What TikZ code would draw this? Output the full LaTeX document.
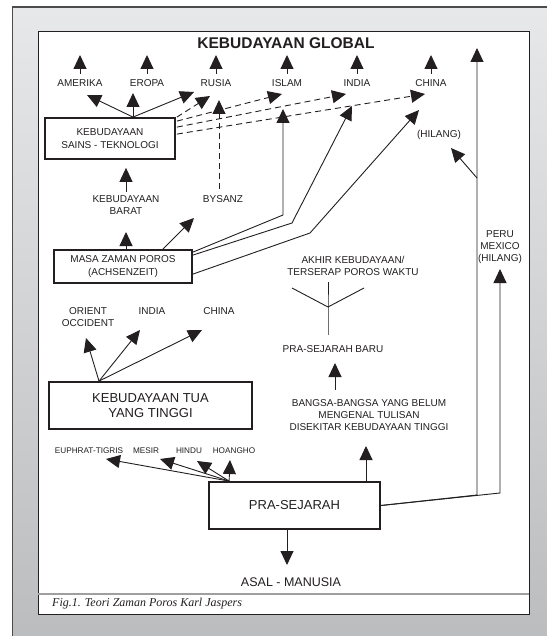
\documentclass[tikz,border=0pt]{standalone}
\usepackage{fontspec}
\setmainfont{Liberation Sans}
\newfontfamily\capfont{Liberation Serif}
\usepackage{tikz}
\usetikzlibrary{arrows.meta}
\definecolor{frametop}{RGB}{231,232,233}
\definecolor{framebot}{RGB}{186,187,189}
\definecolor{ink}{RGB}{35,31,32}

\begin{document}
\begin{tikzpicture}[x=1pt, y=-1pt, every node/.style={text=ink}]
    \tikzstyle{lbl} = [font=\fontsize{10}{12}\selectfont, align=center, inner sep=1pt]
    \tikzstyle{minilbl} = [font=\fontsize{8.2}{10}\selectfont, inner sep=1pt]
    \tikzstyle{box} = [rectangle, draw=ink, line width=1.8pt, align=center, inner sep=0pt]
    \tikzstyle{arr} = [draw=ink, line width=0.9pt, -{Triangle[length=14pt, width=13pt]}]
    \tikzstyle{darr} = [arr, dash pattern=on 6pt off 4pt]
    \tikzstyle{plain} = [draw=ink, line width=0.9pt]

    \useasboundingbox (0,0) rectangle (546,636);
    \fill[white] (0,0) rectangle (546,636);
    \draw[line width=1.2pt, draw=black!70, top color=frametop, bottom color=framebot] (12.5,7) rectangle (570,660);
    \draw[line width=1pt, draw=ink, fill=white] (38,32) rectangle (529,614);
    \draw[line width=1.5pt, draw=gray!75] (38,594) -- (529,594);
    \node[anchor=west, inner sep=0pt, font=\capfont\itshape\fontsize{12}{14}\selectfont] (fig) at (52,604) {Fig.1. Teori Zaman Poros Karl Jaspers};

    \node[font=\fontsize{15.5}{18}\selectfont\bfseries, inner sep=1pt] (global) at (286,43) {KEBUDAYAAN GLOBAL};

    \node[lbl] (amerika) at (80,83) {AMERIKA};
    \node[lbl] (eropa) at (147,83) {EROPA};
    \node[lbl] (rusia) at (216,83) {RUSIA};
    \node[lbl] (islam) at (287,83) {ISLAM};
    \node[lbl] (india) at (357,83) {INDIA};
    \node[lbl] (china) at (431,83) {CHINA};
    \foreach \n in {amerika, eropa, rusia, islam, india, china}
        \draw[arr] ([shift={(0,-9)}]\n.center) -- ++(0,-19);

    \node[box, minimum width=130pt, minimum height=41pt, font=\fontsize{10}{13.3}\selectfont] (sains) at (110,138.5) {KEBUDAYAAN\\SAINS - TEKNOLOGI};
    \draw[arr] ([shift={(23,0)}]sains.north) -- ([shift={(7,12)}]amerika.center);
    \draw[arr] ([shift={(23,0)}]sains.north) -- ([shift={(-14,10)}]eropa.center);
    \draw[arr] ([shift={(23,0)}]sains.north) -- ([shift={(-22,9)}]rusia.center);
    \draw[darr] ([shift={(1,0)}]sains.north east) -- ([shift={(-6,13)}]rusia.center);
    \draw[darr] ([shift={(1,4)}]sains.north east) -- ([shift={(-5,11)}]islam.center);
    \draw[darr] ([shift={(1,10)}]sains.north east) -- ([shift={(-11,11)}]india.center);
    \draw[darr] ([shift={(1,17)}]sains.north east) -- ([shift={(-6,11)}]china.center);

    \node[lbl] (barat) at (126,205) {KEBUDAYAAN\\BARAT};
    \draw[arr] ([shift={(0,-13)}]barat.center) -- ([shift={(16,8)}]sains.south);
    \node[lbl] (bysanz) at (223,199) {BYSANZ};
    \draw[darr] ([shift={(-4,-10)}]bysanz.center) -- ([shift={(-4,-99)}]bysanz.center);

    \node[box, minimum width=138pt, minimum height=33pt, font=\fontsize{10}{12.3}\selectfont] (masa) at (123,266.5) {MASA ZAMAN POROS\\(ACHSENZEIT)};
    \draw[arr] ([shift={(3,0)}]masa.north) -- ([shift={(0,27)}]barat.center);
    \draw[arr] ([shift={(40,0)}]masa.north) -- ([shift={(-29,19)}]bysanz.center);
    \draw[arr] ([shift={(0,3)}]masa.north east) -- (283,215) -- ([shift={(-4,26)}]islam.center);
    \draw[arr] ([shift={(0,6)}]masa.north east) -- (292,223) -- ([shift={(-5,23)}]india.center);
    \draw[arr] ([shift={(0,25)}]masa.north east) -- (310,233) -- ([shift={(-12,27)}]china.center);

    \node[box, minimum width=203pt, minimum height=47pt, font=\fontsize{13}{15}\selectfont] (tua) at (150.5,405.5) {KEBUDAYAAN TUA\\YANG TINGGI};
    \node[lbl] (orient) at (88,317) {ORIENT\\OCCIDENT};
    \node[lbl] (indiatua) at (152,311) {INDIA};
    \node[lbl] (chinatua) at (219,311) {CHINA};
    \draw[arr] ([shift={(-51.5,0)}]tua.north) -- ([shift={(-2,21)}]orient.center);
    \draw[arr] ([shift={(-51.5,0)}]tua.north) -- ([shift={(-12,19)}]indiatua.center);
    \draw[arr] ([shift={(-51.5,0)}]tua.north) -- ([shift={(-17,19)}]chinatua.center);

    \node[lbl] (akhir) at (353,266) {AKHIR KEBUDAYAAN/\\TERSERAP POROS WAKTU};
    \node[lbl] (prsbaru) at (333,349) {PRA-SEJARAH BARU};
    \coordinate (fork) at (328,307);
    \draw[plain] ([shift={(-5,-14)}]prsbaru.center) -- (fork) -- ++(0,-25);
    \draw[plain] (fork) -- ++(-36,-19);
    \draw[plain] (fork) -- ++(36,-19);
    \node[lbl] (bangsa) at (369,415) {BANGSA-BANGSA YANG BELUM\\MENGENAL TULISAN\\DISEKITAR KEBUDAYAAN TINGGI};
    \draw[arr] ([shift={(-34,-25)}]bangsa.center) -- ([shift={(2,14)}]prsbaru.center);

    \node[box, minimum width=171pt, minimum height=47pt, font=\fontsize{13}{15}\selectfont] (prasejarah) at (294.5,505.5) {PRA-SEJARAH};
    \node[font=\fontsize{12.5}{15}\selectfont, inner sep=1pt] (asal) at (291,582) {ASAL - MANUSIA};
    \draw[arr] ([shift={(-7.5,0)}]prasejarah.south) -- ([shift={(-4,-17)}]asal.center);
    \draw[arr] ([shift={(71.5,0)}]prasejarah.north) -- ([shift={(-3,31)}]bangsa.center);

    \node[minilbl] (euphrat) at (89,451) {EUPHRAT-TIGRIS};
    \node[minilbl] (mesir) at (146,451) {MESIR};
    \node[minilbl] (hindu) at (189,451) {HINDU};
    \node[minilbl] (hoangho) at (234,451) {HOANGHO};
    \draw[arr] ([shift={(21,0)}]prasejarah.north west) -- ([shift={(17,8)}]euphrat.center);
    \draw[arr] ([shift={(21,0)}]prasejarah.north west) -- ([shift={(14,8)}]mesir.center);
    \draw[arr] ([shift={(21,0)}]prasejarah.north west) -- ([shift={(8,10)}]hindu.center);
    \draw[arr] ([shift={(21,0)}]prasejarah.north west) -- ([shift={(-4,9)}]hoangho.center);

    \node[lbl] (hilang) at (439,135) {(HILANG)};
    \node[lbl] (peru) at (500,247) {PERU\\MEXICO\\(HILANG)};
    \coordinate (spine) at (477,495);
    \coordinate (hilangfork) at (477,178);
    \coordinate (globaltip) at (477,48);
    \coordinate (perubend) at (500,493);
    \draw[arr] (prasejarah.east) -- (spine) -- (globaltip);
    \draw[arr] (hilangfork) -- ([shift={(12,13)}]hilang.center);
    \draw[arr] (prasejarah.east) -- (perubend) -- ([shift={(0,22)}]peru.center);
\end{tikzpicture}
\end{document}
